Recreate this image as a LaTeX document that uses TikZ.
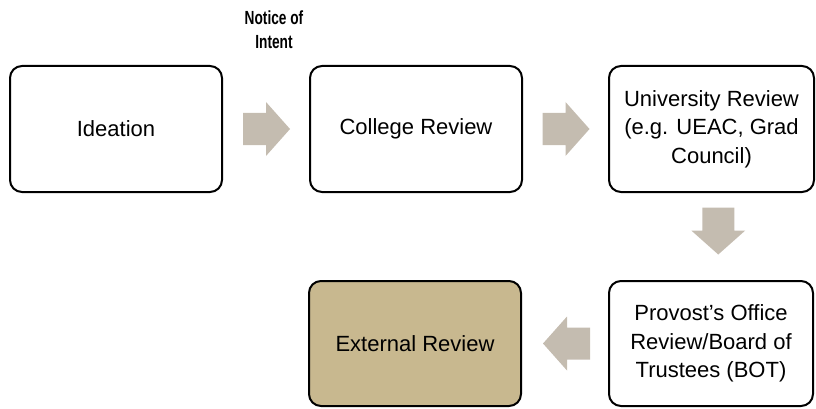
\documentclass[tikz,border=0pt]{standalone}
\usepackage{fontspec}
\setmainfont{Liberation Sans}
\newfontfamily\noticefont[FakeStretch=0.72]{Liberation Sans Bold}
\usetikzlibrary{calc}

\definecolor{arrowgray}{RGB}{196,188,176}
\definecolor{tanfill}{RGB}{200,184,143}

\tikzset{
  stepbox/.style={draw=black,line width=2pt,rounded corners=12pt,
    minimum width=212pt,minimum height=126pt,align=center,
    font=\fontsize{22}{28.5}\selectfont},
  blockarrow/.pic={
    \fill[arrowgray] (-23,-16) -- (0,-16) -- (0,-27) -- (24,0) -- (0,27) -- (0,16) -- (-23,16) -- cycle;
  }
}

\begin{document}
\begin{tikzpicture}[x=1pt,y=-1pt]
    \useasboundingbox (0,0) rectangle (816,409);
    % top row
    \node[stepbox] (ideation) at (116,129) {Ideation};
    \node[stepbox] (college) at (416,129) {College Review};
    \node[stepbox,minimum width=205pt] (university) at (711.5,129) {University Review\\(e.g. UEAC, Grad\\Council)};
    % bottom row
    \node[stepbox,minimum width=204pt,minimum height=125pt] (provost) at (711,343.5) {Provost’s Office\\Review/Board of\\Trustees (BOT)};
    \node[stepbox,fill=tanfill,minimum height=125pt] (external) at (415,343.5) {External Review};
    % arrows between the steps
    \pic at ($(ideation.east)!0.5!(college.west)$) {blockarrow};
    \pic at ($(college.east)!0.5!(university.west)$) {blockarrow};
    \pic[rotate=-90] at ($(university.south)!0.5!(provost.north)+(7,-6)$) {blockarrow};
    \pic[rotate=180] at ($(provost.west)!0.5!(external.east)+(2,0)$) {blockarrow};
    \node[font=\noticefont\fontsize{19}{24}\selectfont,align=center] (notice) at (274,30) {Notice of\\Intent};
\end{tikzpicture}
\end{document}
